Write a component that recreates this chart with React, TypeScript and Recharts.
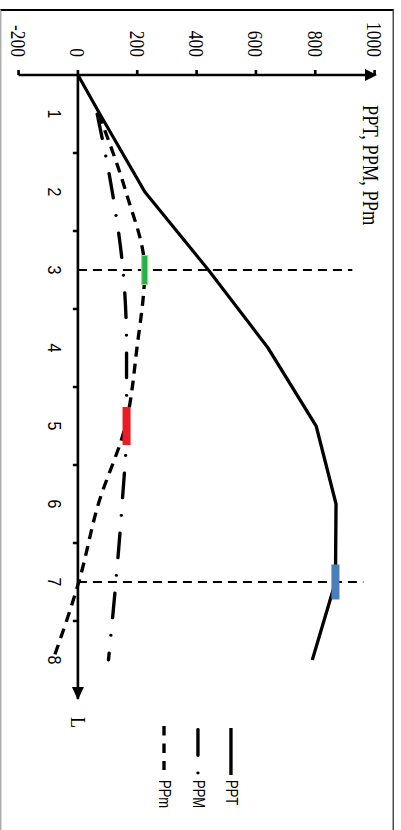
import React from "react";
import {
  LineChart,
  Line,
  XAxis,
  YAxis,
  ReferenceLine,
  ReferenceDot,
  Legend,
} from "recharts";

// L categories and the three series
const levels = [1, 2, 3, 4, 5, 6, 7, 8];
const pptValues = [74, 226, 440, 641, 803, 870, 868, 790];
const ppmValues = [65, 116, 152, 164, 164, 149, 128, 103];
const ppmSmallValues = [70, 162, 225, 199, 160, 69, 3, -84];
const valueTicks = [-200, 0, 200, 400, 600, 800, 1000];

// L axis runs between category bands, origin sits half a band before L=1
const axisStart = 0.5;
const axisEnd = 8.5;
const pptOrigin = 0;

// dashed guide lines: L position and the value where they stop
const guideLevels = [3, 7];
const guideTops = [925, 962];

// highlighted points
const highlights = [
  { series: "PPm", L: 3 },
  { series: "PPM", L: 5 },
  { series: "PPT", L: 7 },
];

const highlightStyle: Record<string, any> = {
  PPm: { fill: "#22b14c", stroke: "#a6d86a", w: 29, h: 5 },
  PPM: { fill: "#ec1c24", stroke: "none", w: 38, h: 6.7 },
  PPT: { fill: "#4a7ebb", stroke: "none", w: 35, h: 6.7 },
};

const series = [
  { key: "PPT", type: "linear", dash: undefined, cap: "butt" },
  { key: "PPM", type: "monotone", dash: "25 17.5 0.1 17.5", cap: "round" },
  { key: "PPm", type: "monotone", dash: "10 7", cap: "butt" },
];

const data = [
  { L: axisStart, PPT: pptOrigin },
  ...levels.map((L, i) => ({
    L,
    PPT: pptValues[i],
    PPM: ppmValues[i],
    PPm: ppmSmallValues[i],
  })),
];

const boundaries = levels.slice(0, -1).map((l) => l + 0.5);

const W = 830;
const H = 334;
const SERIF = "'Liberation Serif', 'Times New Roman', serif";
const SANS = "'Liberation Sans', Arial, sans-serif";

const makeDot = (key: string) => (props: any) => {
  const { cx, cy, payload, index } = props;
  const hit = highlights.find((h) => h.series === key && h.L === payload.L);
  if (!hit || cx == null || cy == null) return <g key={`d-${key}-${index}`} />;
  const s = highlightStyle[key];
  return (
    <rect
      key={`d-${key}-${index}`}
      x={cx - s.w / 2}
      y={cy - s.h / 2}
      width={s.w}
      height={s.h}
      fill={s.fill}
      stroke={s.stroke}
      strokeWidth={1}
    />
  );
};

const LegendBox = () => (
  <svg width={110} height={85} style={{ overflow: "visible" }}>
    <line x1={8} y1={13.7} x2={55} y2={13.7} stroke="#000" strokeWidth={2.8} />
    <text x={60} y={13.7} dominantBaseline="central" fontFamily={SANS} fontSize={13}>
      PPT
    </text>
    <line
      x1={9.4}
      y1={41.2}
      x2={55}
      y2={41.2}
      stroke="#000"
      strokeWidth={2.8}
      strokeLinecap="round"
      strokeDasharray="26.2 17.4 0.1 100"
    />
    <text x={60} y={41.2} dominantBaseline="central" fontFamily={SANS} fontSize={13}>
      PPM
    </text>
    <line
      x1={6}
      y1={69.5}
      x2={50}
      y2={69.5}
      stroke="#000"
      strokeWidth={2.8}
      strokeDasharray="9.5 8"
    />
    <text x={60} y={69.5} dominantBaseline="central" fontFamily={SANS} fontSize={13}>
      PPm
    </text>
  </svg>
);

export default function App() {
  return (
    <div
      style={{
        position: "absolute",
        left: 0,
        top: 0,
        width: 401,
        height: 830,
        overflow: "hidden",
        background: "#fff",
      }}
    >
      <div
        style={{
          position: "absolute",
          left: 0,
          top: 0,
          width: W,
          height: H,
          transformOrigin: "0 0",
          transform: "translateX(401px) rotate(90deg) scaleY(1.2)",
        }}
      >
        <div
          style={{
            position: "absolute",
            left: 9,
            top: 5.8,
            width: W - 9,
            height: H - 5.8,
            boxSizing: "border-box",
            borderLeft: "2px solid #000",
            borderTop: "1.7px solid #222",
            borderBottom: "1.5px solid #999",
          }}
        />
        <LineChart
          width={W}
          height={H}
          data={data}
          margin={{ top: 22, right: W - 699, bottom: 15.3, left: 15 }}
        >
          <XAxis
            type="number"
            dataKey="L"
            domain={[axisStart, axisEnd]}
            allowDataOverflow
            hide
          />
          <YAxis
            type="number"
            domain={[-200, 1000]}
            ticks={valueTicks}
            interval={0}
            width={60}
            allowDataOverflow
            tickSize={5}
            tickMargin={13}
            tick={{ fontFamily: SERIF, fontSize: 17.5, fill: "#000" }}
            tickLine={{ stroke: "#000", strokeWidth: 2.2 }}
            axisLine={{ stroke: "#000", strokeWidth: 2.7 }}
          />
          <ReferenceLine y={0} stroke="#000" strokeWidth={2.2} />
          {series.map((s) => (
            <Line
              key={s.key}
              dataKey={s.key}
              type={s.type as any}
              stroke="#000"
              strokeWidth={2.8}
              strokeDasharray={s.dash}
              strokeLinecap={s.cap as any}
              dot={makeDot(s.key)}
              activeDot={false}
              isAnimationActive={false}
              legendType="none"
            />
          ))}
          {guideLevels.map((l, i) => (
            <ReferenceLine
              key={`g-${l}`}
              segment={[
                { x: l, y: 0 },
                { x: l, y: guideTops[i] },
              ]}
              stroke="#000"
              strokeWidth={2}
              strokeDasharray="7.5 5"
            />
          ))}
          {boundaries.map((b) => (
            <ReferenceDot
              key={`t-${b}`}
              x={b}
              y={0}
              r={0}
              shape={(p: any) => (
                <line x1={p.cx} y1={p.cy} x2={p.cx} y2={p.cy + 4.2} stroke="#000" strokeWidth={2.5} />
              )}
            />
          ))}
          {levels.map((l) => (
            <ReferenceDot
              key={`l-${l}`}
              x={l}
              y={0}
              r={0}
              shape={(p: any) => (
                <text
                  x={p.cx}
                  y={p.cy + 25}
                  textAnchor="middle"
                  fontFamily={SANS}
                  fontSize={16}
                  fill="#000"
                >
                  {l}
                </text>
              )}
            />
          ))}
          <ReferenceDot
            x={axisStart}
            y={1000}
            r={0}
            shape={(p: any) => (
              <g>
                <polygon
                  points={`${p.cx},${p.cy - 2} ${p.cx - 6},${p.cy + 8} ${p.cx + 6},${p.cy + 8}`}
                  fill="#000"
                />
                <text x={p.cx + 30} y={p.cy + 10} fontFamily={SERIF} fontSize={18.4} fill="#000">
                  PPT, PPM, PPm
                </text>
              </g>
            )}
          />
          <ReferenceDot
            x={axisEnd}
            y={0}
            r={0}
            shape={(p: any) => (
              <g>
                <polygon
                  points={`${p.cx + 1},${p.cy} ${p.cx - 12},${p.cy - 5} ${p.cx - 12},${p.cy + 5}`}
                  fill="#000"
                />
                <text x={p.cx + 18} y={p.cy + 6} fontFamily={SERIF} fontSize={18} fill="#000">
                  L
                </text>
              </g>
            )}
          />
          <Legend
            layout="vertical"
            align="center"
            verticalAlign="middle"
            wrapperStyle={{ left: 720, top: 128, width: 110, height: 85 }}
            content={() => <LegendBox />}
          />
        </LineChart>
      </div>
    </div>
  );
}
